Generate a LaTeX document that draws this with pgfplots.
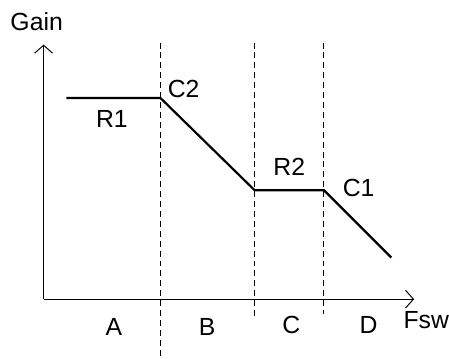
\documentclass[border=0pt]{standalone}
\usepackage{pgfplots}
\pgfplotsset{compat=1.18}
\usepackage{fontspec}
\setmainfont{Liberation Sans}
\usetikzlibrary{arrows.meta}

\begin{document}
\begin{tikzpicture}
\begin{axis}[
  x=0.5pt, y=0.5pt,
  xmin=44, xmax=418, ymin=59, ymax=316,
  axis lines=left,
  axis line style={line width=0.5pt, -{Straight Barb[length=4pt,width=9pt,line width=0.5pt]}},
  xtick=\empty, ytick=\empty,
  clip=false,
  font=\fontsize{12.5}{14}\selectfont,
]
% invisible frame for the full picture size
\path (axis cs:0,0) rectangle (axis cs:449,361);
% dashed region boundaries
\addplot[black, line width=0.5pt, dash pattern=on 3pt off 2pt] coordinates {(162,318) (162,0)};
\addplot[black, line width=0.5pt, dash pattern=on 3pt off 2pt] coordinates {(257,318) (257,39)};
\addplot[black, line width=0.5pt, dash pattern=on 3pt off 2pt] coordinates {(327,318) (327,44)};
% gain curve
\addplot[black, line width=1.1pt] coordinates {
  (67,262) (162,262) (257,169) (327,169) (395,101)
};
\node[inner sep=0pt] at (axis cs:37,339) {Gain};
\node[inner sep=0pt] at (axis cs:113,241) {R1};
\node[anchor=west, inner sep=0pt] at (axis cs:169,271) {C2};
\node[inner sep=0pt] at (axis cs:292,193) {R2};
\node[inner sep=0pt] at (axis cs:362,171) {C1};
\node[inner sep=0pt] at (axis cs:115,31) {A};
\node[inner sep=0pt] at (axis cs:209,31) {B};
\node[inner sep=0pt] at (axis cs:294,33) {C};
\node[inner sep=0pt] at (axis cs:372,33) {D};
\node[anchor=west, inner sep=0pt] at (axis cs:407,38) {Fsw};
\end{axis}
\end{tikzpicture}
\end{document}
